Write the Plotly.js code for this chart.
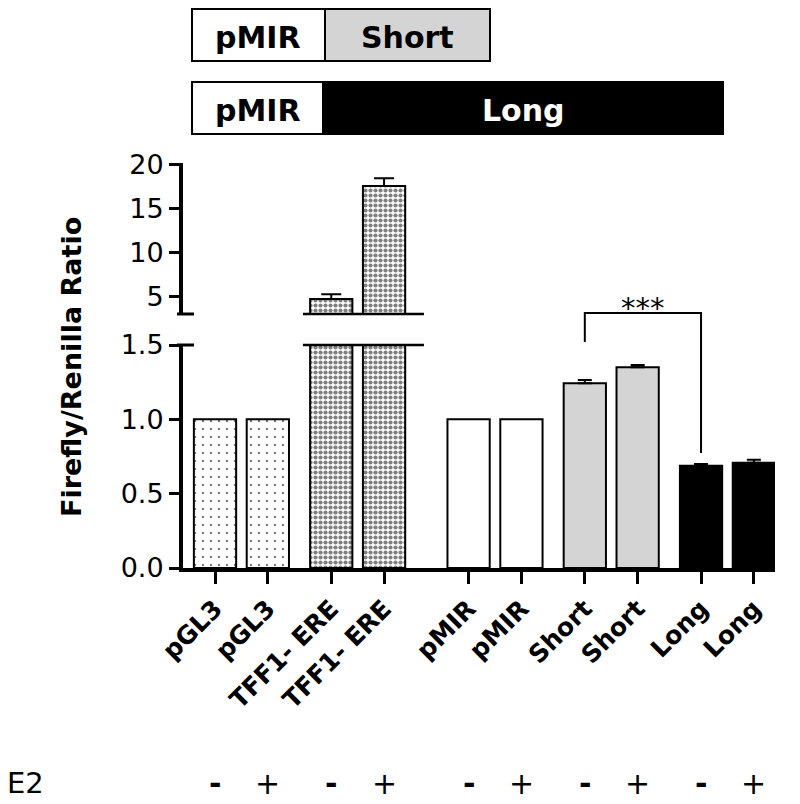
<!DOCTYPE html>
<html>
<head>
<meta charset="utf-8">
<script src="https://cdn.plot.ly/plotly-3.0.1.min.js"></script>
<style>html,body{margin:0;padding:0;background:#fff;}#chart{width:800px;height:804px;}</style>
</head>
<body>
<div id="chart"></div>
<script>
// ---- data ----
const labels = ['pGL3','pGL3','TFF1- ERE','TFF1- ERE','pMIR','pMIR','Short','Short','Long','Long'];
const groups = ['pGL3','pGL3','TFF1','TFF1','pMIR','pMIR','Short','Short','Long','Long'];
const e2 = ['-','+','-','+','-','+','-','+','-','+'];
const ratio = [1.0, 1.0, 4.71, 17.58, 1.0, 1.0, 1.242, 1.35, 0.688, 0.708];
const sem = [0, 0, 0.53, 0.88, 0, 0, 0.022, 0.015, 0.012, 0.02];
const lowTicks = [0, 0.5, 1, 1.5];
const lowTickText = ['0.0','0.5','1.0','1.5'];
const highTicks = [5, 10, 15, 20];

// ---- layout constants ----
const xPos = [0, 1, 2.2, 3.2, 4.8, 5.8, 7, 8, 9.2, 10.2];
const L = 183, R = 25, T = 163, B = 236, W = 800, H = 804;
const pw = W - L - R, ph = H - T - B;
const px = p => (p - L) / pw;          // pixel -> paper x
const py = p => (H - B - p) / ph;      // pixel -> paper y

const styles = {
  pGL3: {color: '#ffffff', pattern: {shape: '.', size: 8, solidity: 0.08, fgcolor: '#000', bgcolor: '#fff', fillmode: 'overlay'}},
  TFF1: {color: '#ffffff', pattern: {shape: '.', size: 5, solidity: 0.55, fgcolor: '#000', bgcolor: '#fff', fillmode: 'overlay'}},
  pMIR: {color: '#ffffff'},
  Short: {color: '#d4d4d4'},
  Long: {color: '#000000'}
};
const groupOrder = ['pGL3','TFF1','pMIR','Short','Long'];

const traces = [];
['y','y2'].forEach(ax => {
  groupOrder.forEach(g => {
    const idx = groups.map((v,i)=>v===g?i:-1).filter(i=>i>=0);
    const hasErr = idx.some(i => sem[i] > 0);
    const st = styles[g];
    const marker = {color: st.color, line: {color: '#000', width: 2}};
    if (st.pattern) marker.pattern = st.pattern;
    traces.push({
      type: 'bar',
      x: idx.map(i => xPos[i]),
      y: idx.map(i => ratio[i]),
      width: 0.8,
      yaxis: ax,
      marker: marker,
      error_y: hasErr ? {type: 'data', array: idx.map(i => sem[i]), arrayminus: idx.map(()=>0), symmetric: false,
                         color: '#000', thickness: 2, width: g === 'TFF1' ? 10 : 7, visible: true} : {visible: false},
      showlegend: false,
      hoverinfo: 'skip'
    });
  });
});

const axisCommon = {
  showline: true, linecolor: '#000', linewidth: 4,
  ticks: 'outside', tickcolor: '#000', tickwidth: 3,
  showgrid: false, zeroline: false, fixedrange: true
};

const shapes = [];
const annotations = [];
const boldFont = (size, color) => ({family: 'DejaVu Sans', size: size, weight: 'bold', color: color || '#000'});

// header boxes
function box(x0, x1, y0, y1, fill) {
  shapes.push({type: 'rect', xref: 'paper', yref: 'paper', x0: px(x0), x1: px(x1), y0: py(y1), y1: py(y0),
               fillcolor: fill, line: {color: '#000', width: 2}, layer: 'above'});
}
box(192, 325, 9, 61, '#ffffff');
box(325, 490, 9, 61, '#d4d4d4');
box(192, 323, 82, 134, '#ffffff');
box(323, 723, 82, 134, '#000000');
function txt(x, y, s, font) {
  annotations.push({xref: 'paper', yref: 'paper', x: px(x), y: py(y), text: s, showarrow: false,
                    xanchor: 'center', yanchor: 'middle', font: font});
}
txt(258, 37, 'pMIR', boldFont(30));
txt(407, 37, 'Short', boldFont(30));
txt(258, 110, 'pMIR', boldFont(30));
txt(523, 110, 'Long', boldFont(30, '#fff'));

// axis break marks
[314, 345].forEach(p => {
  shapes.push({type: 'line', xref: 'paper', yref: 'paper', x0: px(177), x1: px(194), y0: py(p), y1: py(p),
               line: {color: '#000', width: 3}});
  shapes.push({type: 'line', xref: 'x', yref: 'paper', x0: 1.665, x1: 3.955, y0: py(p), y1: py(p),
               line: {color: '#000', width: 2.5}});
});

// significance bracket
shapes.push({type: 'path', xref: 'x', yref: 'paper',
  path: `M ${xPos[6]},${py(342)} L ${xPos[6]},${py(313)} L ${xPos[8]},${py(313)} L ${xPos[8]},${py(453)}`,
  line: {color: '#000', width: 2}});
annotations.push({xref: 'x', yref: 'paper', x: (xPos[6] + xPos[8]) / 2, y: py(308), text: '***',
  showarrow: false, xanchor: 'center', yanchor: 'middle', font: {family: 'DejaVu Sans', size: 29, color: '#000'}});

// y title
annotations.push({xref: 'paper', yref: 'paper', x: px(71), y: py(367), text: 'Firefly/Renilla Ratio', textangle: -90,
  showarrow: false, xanchor: 'center', yanchor: 'middle', font: boldFont(27)});

// E2 row
annotations.push({xref: 'paper', yref: 'paper', x: px(25), y: py(783), text: 'E2', showarrow: false,
  xanchor: 'center', yanchor: 'middle', font: {family: 'DejaVu Sans', size: 29, color: '#000'}});
e2.forEach((s, i) => {
  annotations.push({xref: 'x', yref: 'paper', x: xPos[i], y: py(783), text: s, showarrow: false,
    xanchor: 'center', yanchor: 'middle', font: {family: 'DejaVu Sans', size: 30, weight: s === '-' ? 'bold' : 'normal', color: '#000'}});
});

const layout = {
  width: W, height: H,
  margin: {l: L, r: R, t: T, b: B, pad: 0},
  paper_bgcolor: '#fff', plot_bgcolor: '#fff',
  barmode: 'overlay',
  showlegend: false,
  xaxis: Object.assign({}, axisCommon, {
    domain: [0, 1], range: [-0.606, 10.6], anchor: 'y',
    tickmode: 'array', tickvals: xPos, ticktext: labels, ticklen: 12, tickangle: -45,
    tickfont: boldFont(25)
  }),
  yaxis: Object.assign({}, axisCommon, {
    domain: [0, py(345)], range: [0, 1.5], anchor: 'x',
    tickmode: 'array', tickvals: lowTicks, ticktext: lowTickText, ticklen: 10,
    tickfont: {family: 'DejaVu Sans', size: 27, color: '#000'}
  }),
  yaxis2: Object.assign({}, axisCommon, {
    domain: [py(314), 1], range: [3, 20.2], anchor: 'x',
    tickmode: 'array', tickvals: highTicks, ticklen: 10,
    tickfont: {family: 'DejaVu Sans', size: 27, color: '#000'}
  }),
  shapes: shapes,
  annotations: annotations
};

Plotly.newPlot('chart', traces, layout, {displayModeBar: false, staticPlot: true});
</script>
</body>
</html>
